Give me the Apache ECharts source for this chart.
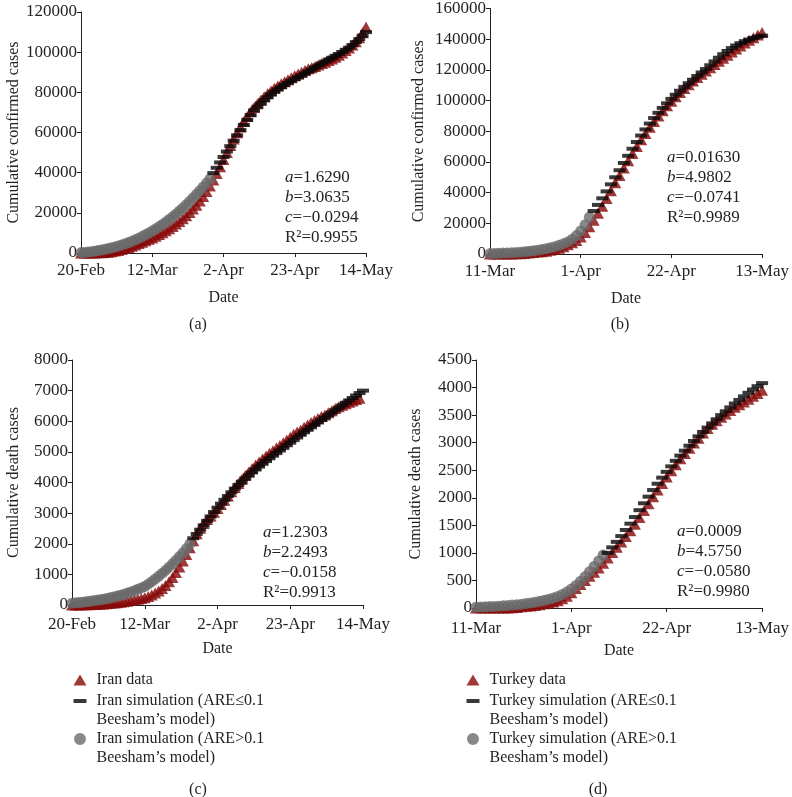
<!DOCTYPE html>
<html><head><meta charset="utf-8">
<script src="https://cdn.jsdelivr.net/npm/echarts@6/dist/echarts.min.js"></script>
<style>html,body{margin:0;padding:0;background:#fff}#c{width:792px;height:797px}</style>
</head><body><div id="c"></div>
<script>
// ---------- tick labels ----------
const iranTicks = ['20-Feb', '12-Mar', '2-Apr', '23-Apr', '14-May'];
const turkeyTicks = ['11-Mar', '1-Apr', '22-Apr', '13-May'];

// ---------- (a) Iran confirmed, day 0 = 20-Feb ----------
const iranConfData = [5,18,28,43,61,95,139,245,388,593,
  978,1300,1700,2200,2750,3350,4000,4700,5400,6100,6800,
  7500,8300,9200,10100,11100,12100,13200,14400,15700,17100,
  18600,20200,21900,23800,25900,28100,30600,33400,36400,39600,
  43000,46500,50000,53500,56800,59900,62800,65500,68000,70300,
  72400,74300,76100,77800,79300,80700,82000,83200,84300,85300,
  86300,87300,88200,89100,90000,90900,91800,92200,92900,93600,
  94300,95000,95800,96600,97500,98500,99600,100800,102100,103600,
  105200,107200,109700,112500];
const iranConfSimHigh = [200,300,450,650,900,1200,1500,1850,2200,2600,3000,
  3500,4000,4600,5200,5900,6600,7400,8200,9100,10000,11000,
  12000,13100,14200,15400,16700,18000,19400,20900,
  22400,24000,25700,27400,29200,31000,32900,34800,36800];
const iranConfSimLow = [39800,42400,45100,47800,50500,53200,55900,58600,61200,63800,66300,68700,
  71000,72800,74500,76100,77600,79000,80300,81500,82600,83700,
  84700,85700,86600,87500,88400,89400,90400,91400,92400,93400,
  94400,95300,96300,97200,98200,99100,100100,101200,102200,103500,
  105000,106500,108200,110000];

// ---------- (b) Turkey confirmed, day 0 = 11-Mar ----------
const turkeyConfData = [1,1,5,6,18,47,98,191,359,670,
  947,1236,1529,1872,2433,3000,3800,4800,6000,7400,
  8800,11000,14000,17700,22000,26500,31200,36200,41300,46500,
  51200,56000,60800,65500,70000,74400,78600,82600,86400,90000,
  93400,96600,99600,102500,105200,107800,110300,112700,115000,117200,
  119300,121400,123500,125600,127600,129600,131600,133600,135600,137500,
  139300,141000,142700,144400];
const turkeyConfSimHigh = [300,380,470,580,700,850,1020,1220,1450,1750,
  2100,2500,2950,3500,4100,4800,5700,6700,7900,9600,
  12000,15000,19000,24000];
const turkeyConfSimLow = [28000,32000,36300,40800,45400,50000,54600,59300,64000,68600,
  73000,77200,81200,85000,88600,92000,95200,98200,101100,103800,
  106400,108900,111300,113600,116000,118300,120500,123000,125500,127900,
  130200,132300,134200,135900,137400,138700,139800,140800,141600,142300];

// ---------- (c) Iran deaths ----------
const iranDeathData = [0,2,4,5,8,12,16,19,26,34,43,
  54,66,77,92,107,124,145,170,190,210,235,
  280,330,390,460,540,640,
  760,900,1060,1240,1440,1650,1870,
  2100,2330,2510,2660,2790,2910,3030,3150,3280,3420,3560,
  3700,3840,3970,4100,4225,4345,4460,4570,4670,4770,
  4865,4955,5040,5125,5210,5297,5391,5481,5574,5650,
  5710,5806,5877,5957,6028,6091,6156,6203,6277,6340,6418,
  6470,6520,6570,6620,6665,6710,6755];
const iranDeathSimHigh = [60,70,80,92,105,120,135,152,170,190,
  212,236,262,290,320,353,388,426,467,511,
  558,608,680,760,845,935,1030,1130,1235,1345,
  1460,1580,1700,1840,1990];
const iranDeathSimLow = [2180,2320,2460,2600,2745,2890,3035,3180,3310,3435,
  3560,3680,3800,3915,4025,4130,4230,4330,4425,4520,
  4610,4700,4790,4875,4960,5045,5130,5215,5300,5385,
  5470,5555,5640,5720,5800,5880,5960,6040,6120,6200,
  6280,6360,6440,6520,6600,6680,6760,6840,6920,7000];

// ---------- (d) Turkey deaths ----------
const turkeyDeathData = [0,0,0,0,0,0,1,2,3,9,
  21,30,37,44,59,75,92,108,131,168,
  214,277,356,425,501,574,649,725,812,908,
  1006,1101,1198,1296,1403,1518,1643,1769,1890,2017,
  2140,2259,2376,2491,2600,2706,2805,2900,2992,3081,
  3174,3258,3336,3397,3461,3520,3584,3641,3689,3739,
  3786,3841,3894,3952];
const turkeyDeathSimHigh = [15,18,21,25,29,34,40,46,53,61,
  70,80,92,106,122,140,160,183,210,245,
  290,345,410,485,570,660,755,855,960];
const turkeyDeathSimLow = [1000,1100,1200,1305,1415,1530,1650,1775,1900,2020,
  2140,2255,2365,2470,2570,2670,2765,2855,2945,3030,
  3115,3195,3275,3350,3425,3500,3570,3640,3710,3775,
  3840,3905,3965,4025,4080];

const annotA = ['a', '=1.6290', 'b', '=3.0635', 'c', '=\u22120.0294', 'R\u00b2=0.9955'];
const annotB = ['a', '=0.01630', 'b', '=4.9802', 'c', '=\u22120.0741', 'R\u00b2=0.9989'];
const annotC = ['a', '=1.2303', 'b', '=2.2493', 'c', '=\u22120.0158', 'R\u00b2=0.9913'];
const annotD = ['a', '=0.0009', 'b', '=4.5750', 'c', '=\u22120.0580', 'R\u00b2=0.9980'];

// ---------- style ----------
const FONT = 'Liberation Serif';
const RED = '#870808', GRAY = '#6a6a6a', BLACK = '#080808', AX = '#231f20';
const DASH = 'path://M0,0H12V4H0Z';
// legend icons padded with zero-area end points so the mark sits on the first text line
const TRI_L = 'path://M6.5,0L13,11L0,11Z M18,11L18.01,11Z';
const DASH_L = 'path://M0,0L0.01,0Z M0,7.5H13V11.5H0Z M18,38L18.01,38Z';
const CIRC_L = 'path://M0,0L0.01,0Z M12.5,9.5A6,6,0,1,1,0.5,9.5A6,6,0,1,1,12.5,9.5Z M18,38L18.01,38Z';

const IRAN = ['Iran data', 'Iran simulation (ARE\u22640.1\nBeesham\u2019s model)', 'Iran simulation (ARE>0.1\nBeesham\u2019s model)'];
const TURKEY = ['Turkey data', 'Turkey simulation (ARE\u22640.1\nBeesham\u2019s model)', 'Turkey simulation (ARE>0.1\nBeesham\u2019s model)'];

function pairs(arr, start) { return arr.map((v, i) => [start + i, v]); }

function panelSeries(idx, names, data, simHigh, simLow) {
  return [
    { type: 'scatter', name: names[0], xAxisIndex: idx, yAxisIndex: idx, data: pairs(data, 0),
      symbol: 'triangle', symbolSize: [12, 11], itemStyle: { color: RED }, z: 2 },
    { type: 'scatter', name: names[2], xAxisIndex: idx, yAxisIndex: idx, data: pairs(simHigh, 0),
      symbol: 'circle', symbolSize: 11, itemStyle: { color: GRAY }, z: 3 },
    { type: 'scatter', name: names[1], xAxisIndex: idx, yAxisIndex: idx, data: pairs(simLow, simHigh.length),
      symbol: DASH, symbolKeepAspect: false, symbolSize: [12, 4], itemStyle: { color: BLACK }, z: 4 }
  ];
}

const grids = [
  { left: 81, top: 12, width: 285, height: 241 },
  { left: 490, top: 6, width: 284, height: 248 },
  { left: 72, top: 360, width: 291, height: 245 },
  { left: 476, top: 360, width: 296, height: 248 }
];

function xAx(idx, ticks, margin, gap) {
  const step = 21;
  return { type: 'value', gridIndex: idx, min: 0, max: step * (ticks.length - 1), interval: step,
    name: 'Date', nameLocation: 'middle', nameGap: gap,
    nameTextStyle: { fontFamily: FONT, fontSize: 16, color: AX },
    axisLine: { show: true, lineStyle: { color: AX, width: 1 } },
    axisTick: { show: true, length: 4, lineStyle: { color: AX } },
    splitLine: { show: false },
    axisLabel: { fontFamily: FONT, fontSize: 17, color: AX, margin: margin,
      formatter: v => ticks[Math.round(v / step)] || '' } };
}
function yAx(idx, max, interval, name, gap) {
  return { type: 'value', gridIndex: idx, min: 0, max: max, interval: interval,
    name: name, nameLocation: 'middle', nameGap: gap,
    nameTextStyle: { fontFamily: FONT, fontSize: 16, color: AX },
    axisLine: { show: true, lineStyle: { color: AX, width: 1 } },
    axisTick: { show: true, length: 4, lineStyle: { color: AX } },
    splitLine: { show: false },
    axisLabel: { fontFamily: FONT, fontSize: 17, color: AX, margin: 4, formatter: v => String(v) } };
}

function annot(x, y, a) {
  return { type: 'text', left: x, top: y, silent: true,
    style: { text: '{i|' + a[0] + '}' + a[1] + '\n{i|' + a[2] + '}' + a[3] + '\n{i|' + a[4] + '}' + a[5] + '\n' + a[6],
      fontFamily: FONT, fontSize: 17, fill: AX, lineHeight: 20,
      rich: { i: { fontStyle: 'italic', fontFamily: FONT, fontSize: 17, fill: AX, lineHeight: 20 } } } };
}
function plabel(x, y, t) {
  return { type: 'text', x: x, y: y, silent: true,
    style: { text: t, fontFamily: FONT, fontSize: 16, fill: AX, textAlign: 'center', textVerticalAlign: 'middle' } };
}

function oneLegend(left, top, name, icon, h) {
  return { orient: 'vertical', left: left, top: top, padding: 0, itemGap: 0,
    itemWidth: 18, itemHeight: h, selectedMode: false, symbolKeepAspect: false,
    textStyle: { fontFamily: FONT, fontSize: 16, color: AX, lineHeight: 19 },
    data: [{ name: name, icon: icon }] };
}
function legendsFor(left, names) {
  return [
    oneLegend(left, 670.5, names[0], TRI_L, 11),
    oneLegend(left, 691.5, names[1], DASH_L, 38),
    oneLegend(left, 729.5, names[2], CIRC_L, 38)
  ];
}

const chart = echarts.init(document.getElementById('c'), null, { renderer: 'canvas' });
chart.setOption({
  animation: false,
  backgroundColor: '#fff',
  grid: grids,
  xAxis: [xAx(0, iranTicks, 9, 37), xAx(1, turkeyTicks, 9, 37), xAx(2, iranTicks, 11, 36), xAx(3, turkeyTicks, 12, 35)],
  yAxis: [
    yAx(0, 120000, 20000, 'Cumulative confirmed cases', 57),
    yAx(1, 160000, 20000, 'Cumulative confirmed cases', 63),
    yAx(2, 8000, 1000, 'Cumulative death cases', 50),
    yAx(3, 4500, 500, 'Cumulative death cases', 52)
  ],
  legend: [].concat(legendsFor(73.5, IRAN), legendsFor(466.5, TURKEY)),
  series: [].concat(
    panelSeries(0, IRAN, iranConfData, iranConfSimHigh, iranConfSimLow),
    panelSeries(1, TURKEY, turkeyConfData, turkeyConfSimHigh, turkeyConfSimLow),
    panelSeries(2, IRAN, iranDeathData, iranDeathSimHigh, iranDeathSimLow),
    panelSeries(3, TURKEY, turkeyDeathData, turkeyDeathSimHigh, turkeyDeathSimLow)
  ),
  graphic: [
    annot(285, 168, annotA), annot(667, 148, annotB), annot(263, 523, annotC), annot(677, 522, annotD),
    plabel(198, 325, '(a)'), plabel(620, 325, '(b)'), plabel(198, 790, '(c)'), plabel(598, 790, '(d)')
  ]
});
</script></body></html>
